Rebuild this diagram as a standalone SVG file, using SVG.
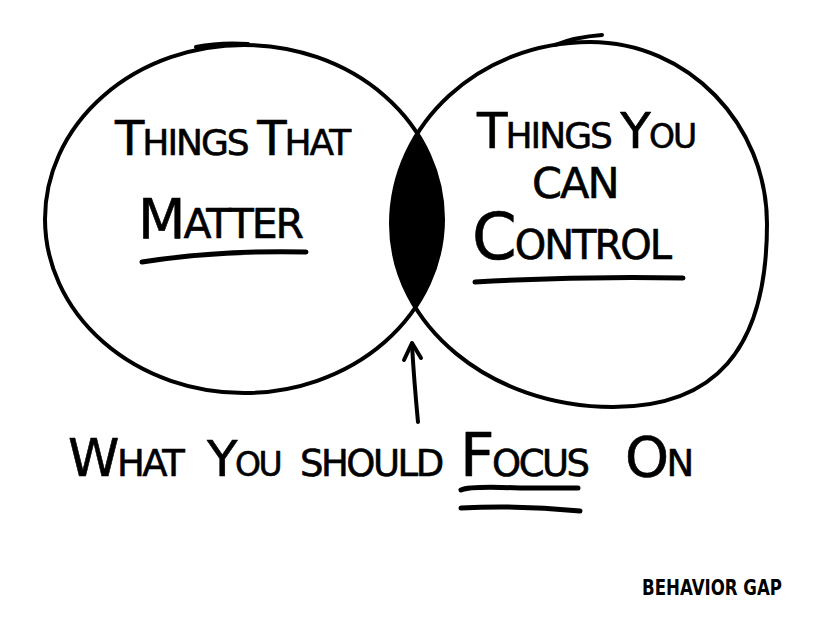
<svg xmlns="http://www.w3.org/2000/svg" width="826" height="629" viewBox="0 0 826 629">
<style>
.line{fill:none;stroke:#000;stroke-width:4;stroke-linecap:round;stroke-linejoin:round}
.ul{fill:none;stroke:#000;stroke-width:5;stroke-linecap:round}
.hand{font-family:"DejaVu Sans","Liberation Sans",sans-serif;fill:#000;stroke:#000;stroke-width:0.6;stroke-linejoin:round;letter-spacing:-2px}
.low{letter-spacing:-2.5px}
</style>
<defs>
<path id="rightShape" d="M391,224 C391,124 480,42 590,42 C688,42 767,124 767,224 C767,352 713,407 613,407 C490,407 391,325 391,224 Z"/>
<clipPath id="clipRight"><use href="#rightShape"/></clipPath>
</defs>
<rect width="826" height="629" fill="#fff"/>

<g id="intersection">
<ellipse cx="244" cy="219" rx="199" ry="174" fill="#000" clip-path="url(#clipRight)"/>
</g>

<g id="left-circle">
<ellipse class="line" cx="244" cy="219" rx="199" ry="174"/>
<path class="line" d="M196,47 Q220,42 248,44" stroke-width="5"/>
<text class="hand" x="115" y="155" font-size="36"><tspan font-size="48">T</tspan>HINGS <tspan font-size="48">T</tspan>HAT</text>
<text class="hand" x="138" y="238" font-size="41"><tspan font-size="55">M</tspan>ATTER</text>
<path class="ul" d="M142,262 Q220,250 306,252"/>
</g>

<g id="right-circle">
<use href="#rightShape" class="line"/>
<path class="line" d="M555,45 Q575,37 602,35"/>
<text class="hand" x="477" y="148" font-size="36"><tspan font-size="50">T</tspan>HINGS <tspan font-size="50">Y</tspan><tspan font-size="33">OU</tspan></text>
<text class="hand" x="532" y="198" font-size="43">CAN</text>
<text class="hand" x="472" y="259" font-size="40"><tspan font-size="64">C</tspan>ONTROL</text>
<path class="ul" d="M475,282 Q580,276 683,278"/>
</g>

<g id="focus-label">
<text class="hand low" x="68" y="476" font-size="37"><tspan font-size="52">W</tspan>HAT</text>
<text class="hand low" x="207" y="476" font-size="33"><tspan font-size="50">Y</tspan>OU</text>
<text class="hand low" x="300" y="476" font-size="37">SHOULD</text>
<text class="hand low" x="460" y="476" font-size="37"><tspan font-size="60">F</tspan>OCUS</text>
<text class="hand low" x="625" y="476" font-size="37"><tspan font-size="56">O</tspan>N</text>
<path class="ul" d="M461,490 Q470,486 520,488 L578,488"/>
<path class="ul" d="M461,508 Q520,505 580,511"/>
</g>

<g id="connectors">
<path class="line" d="M418,422 Q414,380 412,345"/>
<path class="line" d="M404,360 L412,343 L421,358"/>
</g>

<g id="credit">
<text x="642" y="595" font-family="DejaVu Sans, sans-serif" font-weight="bold" font-size="22" textLength="140" lengthAdjust="spacingAndGlyphs" fill="#000">BEHAVIOR GAP</text>
</g>
</svg>
